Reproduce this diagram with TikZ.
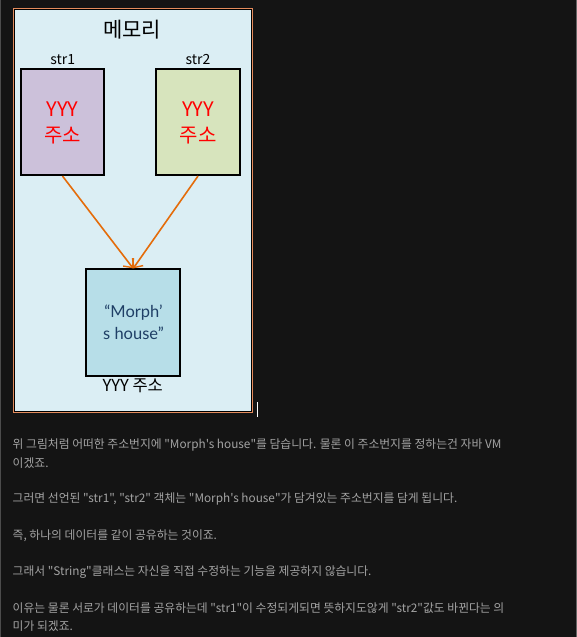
\documentclass[tikz,border=0pt]{standalone}
\usepackage{fontspec}
\usetikzlibrary{arrows.meta}
\setmainfont{Noto Sans CJK KR}
\newfontfamily\kr{Noto Sans CJK KR}
\newfontfamily\latinf{Lato}
\definecolor{bgdark}{HTML}{141414}
\definecolor{frameor}{HTML}{E38B5C}
\definecolor{memfill}{HTML}{DBEEF4}
\definecolor{lav}{HTML}{CCC1DA}
\definecolor{olive}{HTML}{D7E4BD}
\definecolor{aqua}{HTML}{B7DEE8}
\definecolor{arrowor}{HTML}{E46C0A}
\definecolor{navytxt}{HTML}{1F3F66}
\definecolor{bodygray}{HTML}{A3A3A3}
\tikzset{
  varbox/.style={draw=black, line width=1.8pt, minimum width=83.6pt, minimum height=106.3pt, inner sep=0pt, align=center},
  reftxt/.style={text=red, font=\kr\fontsize{20}{26}\selectfont},
  lbl/.style={font=\kr\fontsize{14}{16}\selectfont, text=black, inner sep=0pt},
  ptr/.style={draw=arrowor, line width=1.6pt, -{Straight Barb[length=7pt,width=13pt,line width=1.4pt]}},
  body/.style={anchor=west, inner sep=0pt, text=bodygray, font=\kr\fontsize{11.8}{14}\selectfont}
}
\begin{document}
\begin{tikzpicture}[x=1pt,y=-1pt]
\useasboundingbox (0,0) rectangle (577,637);
\fill[bgdark] (0,0) rectangle (577,637);
\draw[color=black!70!white, line width=0.8pt] (0.4,0) -- (0.4,637);
\draw[color=black!60!white, line width=1.4pt] (576.3,0) -- (576.3,637);
% memory frame
\fill[frameor] (13,8) rectangle (253,413);
\fill[black] (14.2,9.2) rectangle (251.8,411.8);
\fill[memfill] (15.2,10.2) rectangle (250.8,410.8);
\node[font=\kr\fontsize{21}{24}\selectfont, text=black, inner sep=0pt] (title) at (132,30) {메모리};
% boxes
\node[varbox, fill=lav] (s1) at (62.5,122) {};
\node[varbox, fill=olive] (s2) at (198,122) {};
\node[varbox, fill=aqua, minimum width=94.3pt, minimum height=106.7pt] (mh) at (133.2,322.7) {};
\node[reftxt] (s1a) at (62.5,109) {YYY};
\node[reftxt] (s1b) at (62.5,135.5) {주소};
\node[reftxt] (s2a) at (198,109) {YYY};
\node[reftxt] (s2b) at (198,135.5) {주소};
\node[lbl] (l1) at (62.7,59.5) {str1};
\node[lbl] (l2) at (198,59.5) {str2};
\node[text=navytxt, font=\latinf\fontsize{16.5}{20}\selectfont, inner sep=0pt] (m1) at (133.5,313) {“Morph’};
\node[text=navytxt, font=\latinf\fontsize{16.5}{20}\selectfont, inner sep=0pt] (m2) at (133.5,333.5) {s house”};
\node[lbl, font=\kr\fontsize{16.5}{18}\selectfont] (l3) at (132.7,385.5) {YYY 주소};
% pointers
\draw[ptr] (s1.south) -- (mh.north);
\draw[ptr] (s2.south) -- (mh.north);
% cursor
\draw[white, line width=1pt] (257.3,402) -- (257.3,416.5);
% body text
\node[body] (t1) at (12.5,445) {위 그림처럼 어떠한 주소번지에 "Morph's house"를 담습니다. 물론 이 주소번지를 정하는건 자바 VM};
\node[body] (t2) at (12.5,463.3) {이겠죠.};
\node[body] (t3) at (12.5,499.3) {그러면 선언된 "str1", "str2" 객체는 "Morph's house"가 담겨있는 주소번지를 담게 됩니다.};
\node[body] (t4) at (12.5,535.3) {즉, 하나의 데이터를 같이 공유하는 것이죠.};
\node[body] (t5) at (12.5,571.7) {그래서 "String"클래스는 자신을 직접 수정하는 기능을 제공하지 않습니다.};
\node[body] (t6) at (12.5,608) {이유는 물론 서로가 데이터를 공유하는데 "str1"이 수정되게되면 뜻하지도않게 "str2"값도 바뀐다는 의};
\node[body] (t7) at (12.5,625.7) {미가 되겠죠.};
\end{tikzpicture}
\end{document}
